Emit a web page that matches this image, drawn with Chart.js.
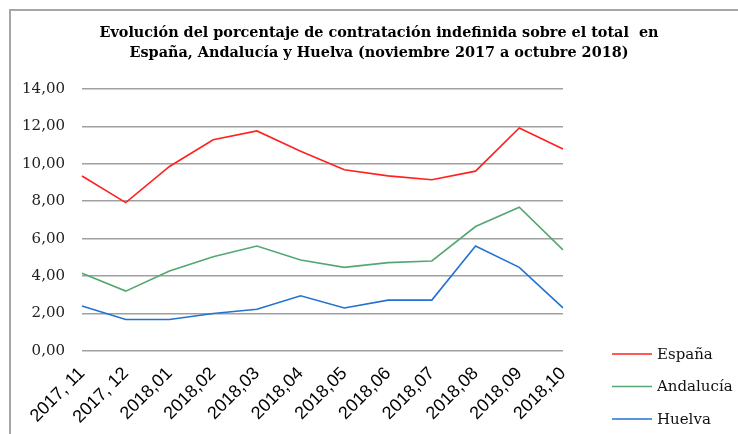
<!DOCTYPE html>
<html>
<head>
<meta charset="utf-8">
<script src="https://cdn.jsdelivr.net/npm/chart.js@4/dist/chart.umd.min.js"></script>
<style>
  body { margin: 0; background: #fff; overflow: hidden; }
  #frame { position: absolute; left: 9px; top: 9px; width: 760px; height: 460px; border: 2px solid #a6a6a6; }
  #wrap { position: absolute; left: 0; top: 0; width: 738px; height: 434px; }
</style>
</head>
<body>
<div id="frame"></div>
<div id="wrap"><canvas id="myChart" width="738" height="434"></canvas></div>
<script>
// months (x axis)
const meses = ['2017, 11', '2017, 12', '2018,01', '2018,02', '2018,03', '2018,04',
  '2018,05', '2018,06', '2018,07', '2018,08', '2018,09', '2018,10'];

// % contratación indefinida
const espana    = [9.35, 7.93, 9.86, 11.29, 11.76, 10.67, 9.68, 9.36, 9.15, 9.61, 11.92, 10.79];
const andalucia = [4.15, 3.20, 4.27, 5.04, 5.61, 4.86, 4.47, 4.72, 4.81, 6.65, 7.68, 5.40];
const huelva    = [2.40, 1.68, 1.68, 2.00, 2.23, 2.95, 2.30, 2.72, 2.72, 5.61, 4.47, 2.30];

const series = ['España', 'Andalucía', 'Huelva'];
const titulo = ['Evolución del porcentaje de contratación indefinida sobre el total  en',
  'España, Andalucía y Huelva (noviembre 2017 a octubre 2018)'];
const yTicks = { min: 0, max: 14, step: 2 };

// legend drawn at lower right, like the original
const legendPlugin = {
  id: 'legendaAbajo',
  afterDraw(chart) {
    const ctx = chart.ctx;
    const x0 = chart.chartArea.right + 49;
    ctx.save();
    ctx.font = '15px "DejaVu Serif"';
    ctx.textBaseline = 'middle';
    chart.data.datasets.forEach((ds, i) => {
      const y = 354 + i * 32.5;
      ctx.strokeStyle = ds.borderColor;
      ctx.lineWidth = 1.6;
      ctx.beginPath();
      ctx.moveTo(x0, y);
      ctx.lineTo(x0 + 40, y);
      ctx.stroke();
      ctx.fillStyle = '#111';
      ctx.fillText(ds.label, x0 + 45, y + 1);
    });
    ctx.restore();
  }
};

const ctx = document.getElementById('myChart').getContext('2d');
const myChart = new Chart(ctx, {
  type: 'line',
  data: {
    labels: meses,
    datasets: [
      { label: series[0], data: espana, borderColor: '#ff2020' },
      { label: series[1], data: andalucia, borderColor: '#55a771' },
      { label: series[2], data: huelva, borderColor: '#2272d2' }
    ]
  },
  options: {
    responsive: false,
    animation: false,
    devicePixelRatio: 1,
    layout: { padding: { left: 20, right: 0, top: 0, bottom: 0 } },
    elements: {
      line: { borderWidth: 1.6, tension: 0, fill: false },
      point: { radius: 0, hoverRadius: 0 }
    },
    plugins: {
      legend: { display: false },
      tooltip: { enabled: false },
      title: {
        display: true,
        text: titulo,
        color: '#000',
        font: { family: '"DejaVu Serif"', size: 14.4, weight: 'bold', lineHeight: '20px' },
        padding: { top: 23, bottom: 26 }
      }
    },
    scales: {
      x: {
        offset: false,
        grid: { display: false, drawTicks: false },
        border: { display: false },
        ticks: {
          autoSkip: false,
          minRotation: 45,
          maxRotation: 45,
          padding: 12,
          color: '#000',
          font: { family: '"Liberation Sans"', size: 18 }
        },
        afterFit: s => { s.height = 83; }
      },
      y: {
        min: yTicks.min,
        max: yTicks.max,
        grid: { color: '#a0a0a0', lineWidth: 1.6, drawTicks: false },
        border: { display: false },
        ticks: {
          stepSize: yTicks.step,
          padding: 17,
          color: '#222',
          font: { family: '"DejaVu Serif"', size: 15 },
          callback: v => v.toFixed(2).replace('.', ',')
        },
        afterFit: s => { s.width = 62; }
      },
      // empty right axis: keeps room for the legend
      y2: {
        position: 'right',
        grid: { display: false, drawTicks: false },
        border: { display: false },
        ticks: { display: false },
        afterFit: s => { s.width = 175; }
      }
    }
  },
  plugins: [legendPlugin]
});
</script>
</body>
</html>
